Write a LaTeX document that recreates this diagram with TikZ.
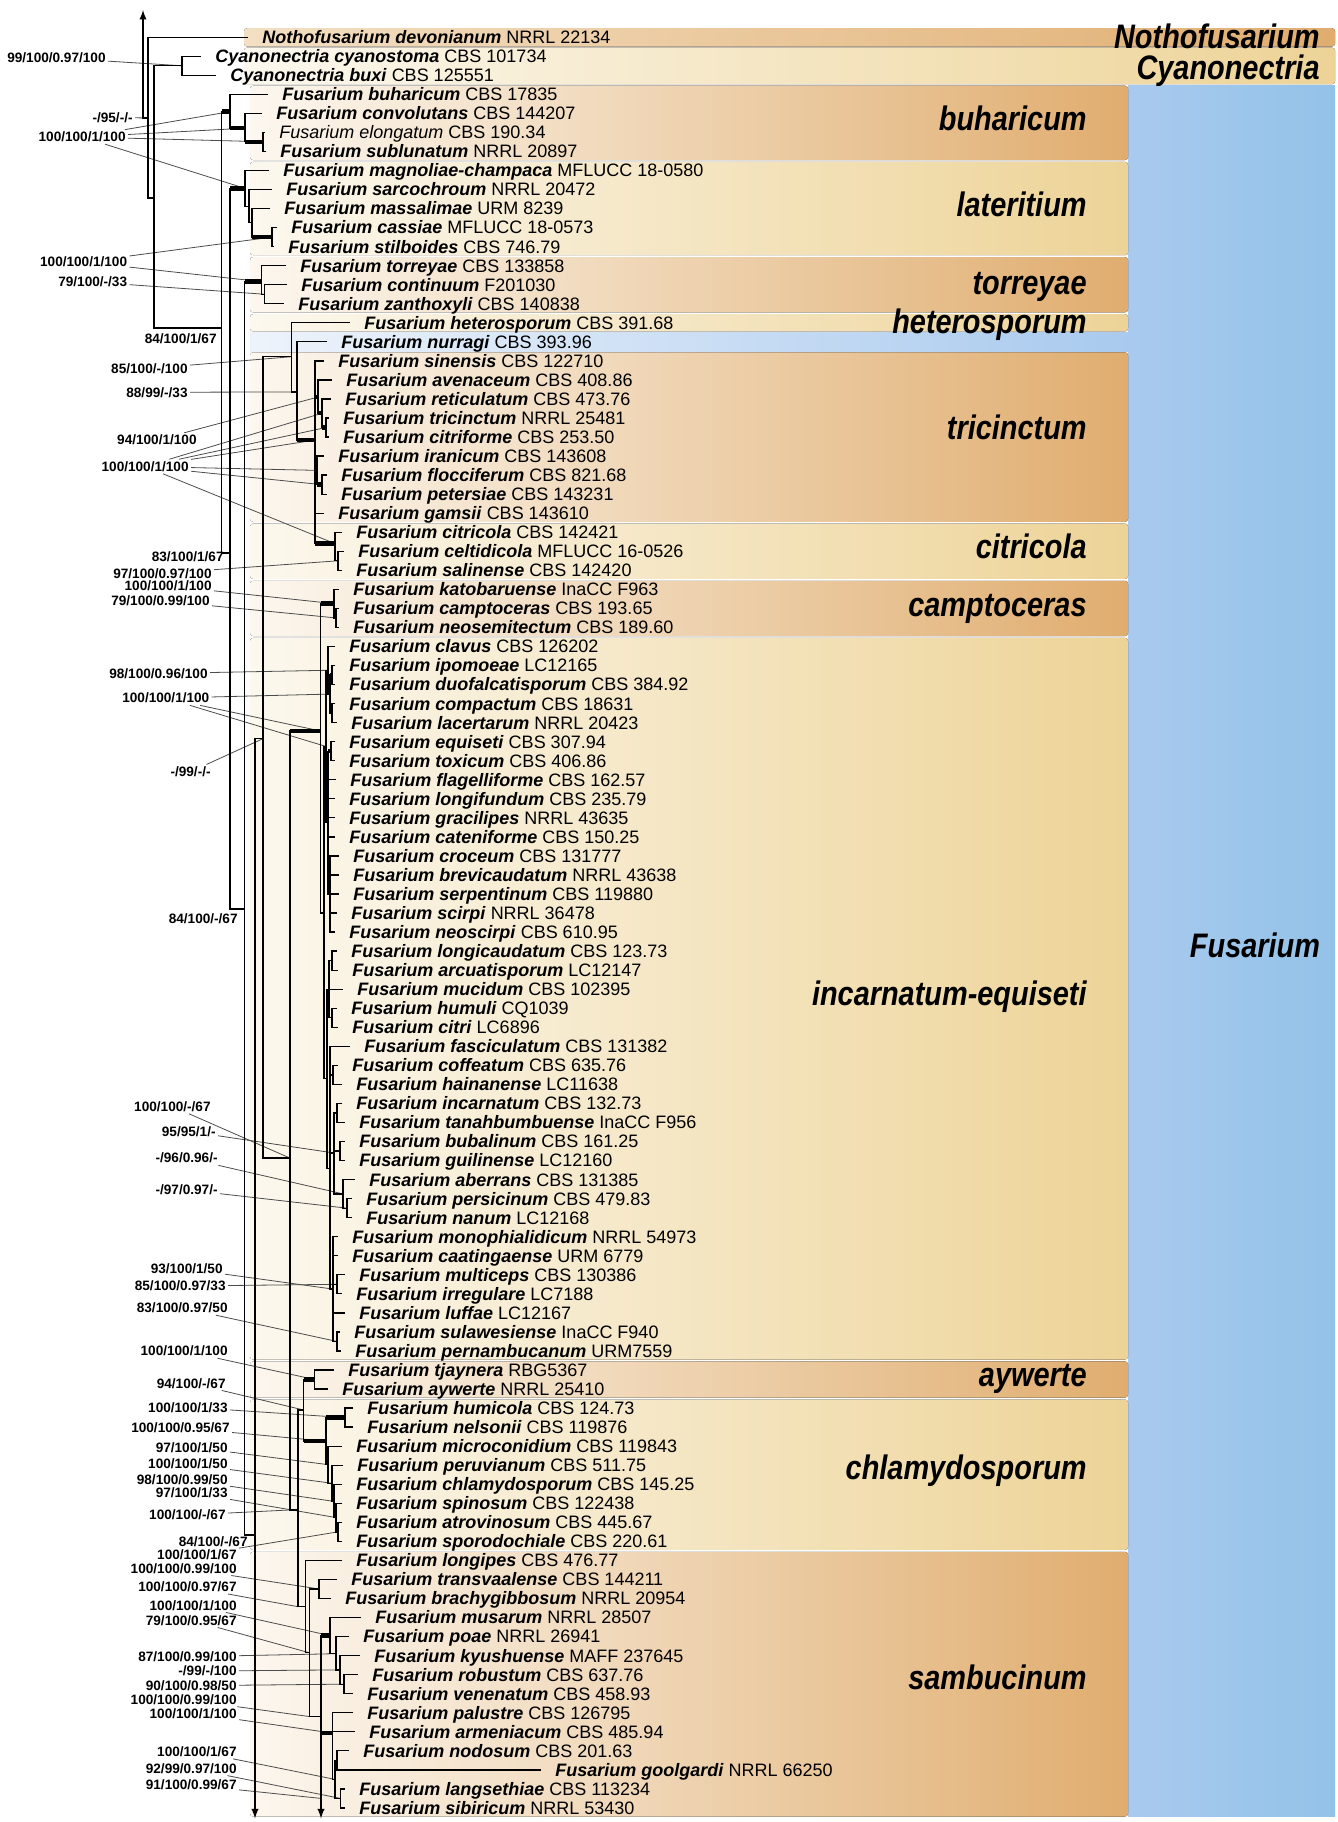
\documentclass[tikz,border=0pt]{standalone}
\usepackage{fontspec}
\setmainfont{Liberation Sans}
\newfontfamily\cladefont[FakeStretch=0.85]{Liberation Sans}
\usepackage{xcolor}
\usepackage{tikz}
\usetikzlibrary{calc}
\definecolor{tanR}{HTML}{E0AD6F}
\definecolor{tanL}{HTML}{FCF7EF}
\definecolor{notL}{HTML}{F3DFC3}
\definecolor{creR}{HTML}{EDD397}
\definecolor{creL}{HTML}{FCF8EE}
\definecolor{bluL}{HTML}{A9CAEE}
\definecolor{bluR}{HTML}{93C2E8}
\definecolor{nurL}{HTML}{EEF3FB}
\newcommand{\taxon}[2]{\textbf{\textit{#1}} #2}
\tikzset{
  br/.style={line width=0.65pt},
  thk/.style={line width=2.2pt},
  ldr/.style={line width=0.4pt,black!70},
  taxa/.style={anchor=west,inner xsep=7pt,inner ysep=0pt,font=\fontsize{9}{10}\selectfont,text height=6.4pt,text depth=0pt},
  sup/.style={anchor=east,inner sep=1pt,font=\bfseries\fontsize{6.8}{8}\selectfont,text height=4.9pt,text depth=0pt},
  clade/.style={anchor=east,inner sep=0pt,font=\cladefont\bfseries\itshape\fontsize{17}{20}\selectfont,text height=12.2pt,text depth=0pt},
  tanband/.style={left color=tanL,right color=tanR,rounded corners=1.5pt},
  creband/.style={left color=creL,right color=creR,rounded corners=1.5pt},
}
\begin{document}
\begin{tikzpicture}[x=0.5pt,y=-9.52pt]
	\useasboundingbox (0,-0.954) rectangle (1338,94.74);
	% colour bands
	\fill[left color=bluL,right color=bluR] (1128,3.55) rectangle (1335,94.45);
	\fill[left color=notL,right color=tanR,rounded corners=1.5pt] (244,0.53) rectangle (1335,1.49);
	\fill[left color=creL,right color=creR,rounded corners=1.5pt] (244,1.55) rectangle (1335,3.47);
	\fill[tanband] (250,3.55) rectangle (1128,7.45);
	\fill[creband] (250,7.55) rectangle (1128,12.45);
	\fill[tanband] (250,12.55) rectangle (1128,15.45);
	\fill[creband] (250,15.55) rectangle (1128,16.45);
	\fill[left color=nurL,right color=bluL] (250,16.5) rectangle (1128,17.5);
	\fill[tanband] (250,17.55) rectangle (1128,26.45);
	\fill[creband] (250,26.55) rectangle (1128,29.45);
	\fill[tanband] (250,29.55) rectangle (1128,32.45);
	\fill[creband] (250,32.55) rectangle (1128,70.45);
	\fill[tanband] (250,70.55) rectangle (1128,72.45);
	\fill[creband] (250,72.55) rectangle (1128,80.45);
	\fill[tanband] (250,80.55) rectangle (1128,94.45);
	% clade names
	\node[clade] (Lnotho) at (1320,0.94) {Nothofusarium};
	\node[clade] (Lcyano) at (1320,2.59) {Cyanonectria};
	\node[clade,anchor=center] (Lfus) at (1255,48.7) {Fusarium};
	\node[clade] (Lbuh) at (1087,5.28) {buharicum};
	\node[clade] (Llat) at (1087,9.79) {lateritium};
	\node[clade] (Ltor) at (1087,13.88) {torreyae};
	\node[clade] (Lhet) at (1087,15.9) {heterosporum};
	\node[clade] (Ltri) at (1087,21.5) {tricinctum};
	\node[clade] (Lcit) at (1087,27.74) {citricola};
	\node[clade] (Lcam) at (1087,30.8) {camptoceras};
	\node[clade] (Linc) at (1087,51.19) {incarnatum-equiseti};
	\node[clade] (Layw) at (1087,71.2) {aywerte};
	\node[clade] (Lchl) at (1087,76.1) {chlamydosporum};
	\node[clade] (Lsam) at (1087,87.15) {sambucinum};
	% taxa
	\node[taxa] (devonianum) at (248,1) {\taxon{Nothofusarium devonianum}{NRRL 22134}};
	\node[taxa] (cyanostoma) at (201,2) {\taxon{Cyanonectria cyanostoma}{CBS 101734}};
	\node[taxa] (buxi) at (216,3) {\taxon{Cyanonectria buxi}{CBS 125551}};
	\node[taxa] (buharicum) at (268,4) {\taxon{Fusarium buharicum}{CBS 17835}};
	\node[taxa] (convolutans) at (262,5) {\taxon{Fusarium convolutans}{CBS 144207}};
	\node[taxa] (elongatum) at (265,6) {\textit{Fusarium elongatum} CBS 190.34};
	\node[taxa] (sublunatum) at (266,7) {\taxon{Fusarium sublunatum}{NRRL 20897}};
	\node[taxa] (magnoliae) at (269,8) {\taxon{Fusarium magnoliae-champaca}{MFLUCC 18-0580}};
	\node[taxa] (sarcochroum) at (272,9) {\taxon{Fusarium sarcochroum}{NRRL 20472}};
	\node[taxa] (massalimae) at (270,10) {\taxon{Fusarium massalimae}{URM 8239}};
	\node[taxa] (cassiae) at (277,11) {\taxon{Fusarium cassiae}{MFLUCC 18-0573}};
	\node[taxa] (stilboides) at (274,12) {\taxon{Fusarium stilboides}{CBS 746.79}};
	\node[taxa] (torreyae) at (286,13) {\taxon{Fusarium torreyae}{CBS 133858}};
	\node[taxa] (continuum) at (287,14) {\taxon{Fusarium continuum}{F201030}};
	\node[taxa] (zanthoxyli) at (284,15) {\taxon{Fusarium zanthoxyli}{CBS 140838}};
	\node[taxa] (heterosporum) at (350,16) {\taxon{Fusarium heterosporum}{CBS 391.68}};
	\node[taxa] (nurragi) at (327,17) {\taxon{Fusarium nurragi}{CBS 393.96}};
	\node[taxa] (sinensis) at (324,18) {\taxon{Fusarium sinensis}{CBS 122710}};
	\node[taxa] (avenaceum) at (332,19) {\taxon{Fusarium avenaceum}{CBS 408.86}};
	\node[taxa] (reticulatum) at (331,20) {\taxon{Fusarium reticulatum}{CBS 473.76}};
	\node[taxa] (tricinctum) at (329,21) {\taxon{Fusarium tricinctum}{NRRL 25481}};
	\node[taxa] (citriforme) at (329,22) {\taxon{Fusarium citriforme}{CBS 253.50}};
	\node[taxa] (iranicum) at (324,23) {\taxon{Fusarium iranicum}{CBS 143608}};
	\node[taxa] (flocciferum) at (327,24) {\taxon{Fusarium flocciferum}{CBS 821.68}};
	\node[taxa] (petersiae) at (327,25) {\taxon{Fusarium petersiae}{CBS 143231}};
	\node[taxa] (gamsii) at (324,26) {\taxon{Fusarium gamsii}{CBS 143610}};
	\node[taxa] (citricola) at (342,27) {\taxon{Fusarium citricola}{CBS 142421}};
	\node[taxa] (celtidicola) at (344,28) {\taxon{Fusarium celtidicola}{MFLUCC 16-0526}};
	\node[taxa] (salinense) at (342,29) {\taxon{Fusarium salinense}{CBS 142420}};
	\node[taxa] (katobaruense) at (339,30) {\taxon{Fusarium katobaruense}{InaCC F963}};
	\node[taxa] (camptoceras) at (339,31) {\taxon{Fusarium camptoceras}{CBS 193.65}};
	\node[taxa] (neosemitectum) at (339,32) {\taxon{Fusarium neosemitectum}{CBS 189.60}};
	\node[taxa] (clavus) at (335,33) {\taxon{Fusarium clavus}{CBS 126202}};
	\node[taxa] (ipomoeae) at (335,34) {\taxon{Fusarium ipomoeae}{LC12165}};
	\node[taxa] (duofalcatisporum) at (335,35) {\taxon{Fusarium duofalcatisporum}{CBS 384.92}};
	\node[taxa] (compactum) at (335,36) {\taxon{Fusarium compactum}{CBS 18631}};
	\node[taxa] (lacertarum) at (337,37) {\taxon{Fusarium lacertarum}{NRRL 20423}};
	\node[taxa] (equiseti) at (335,38) {\taxon{Fusarium equiseti}{CBS 307.94}};
	\node[taxa] (toxicum) at (335,39) {\taxon{Fusarium toxicum}{CBS 406.86}};
	\node[taxa] (flagelliforme) at (336,40) {\taxon{Fusarium flagelliforme}{CBS 162.57}};
	\node[taxa] (longifundum) at (335,41) {\taxon{Fusarium longifundum}{CBS 235.79}};
	\node[taxa] (gracilipes) at (335,42) {\taxon{Fusarium gracilipes}{NRRL 43635}};
	\node[taxa] (cateniforme) at (335,43) {\taxon{Fusarium cateniforme}{CBS 150.25}};
	\node[taxa] (croceum) at (339,44) {\taxon{Fusarium croceum}{CBS 131777}};
	\node[taxa] (brevicaudatum) at (339,45) {\taxon{Fusarium brevicaudatum}{NRRL 43638}};
	\node[taxa] (serpentinum) at (339,46) {\taxon{Fusarium serpentinum}{CBS 119880}};
	\node[taxa] (scirpi) at (337,47) {\taxon{Fusarium scirpi}{NRRL 36478}};
	\node[taxa] (neoscirpi) at (335,48) {\taxon{Fusarium neoscirpi}{CBS 610.95}};
	\node[taxa] (longicaudatum) at (337,49) {\taxon{Fusarium longicaudatum}{CBS 123.73}};
	\node[taxa] (arcuatisporum) at (338,50) {\taxon{Fusarium arcuatisporum}{LC12147}};
	\node[taxa] (mucidum) at (343,51) {\taxon{Fusarium mucidum}{CBS 102395}};
	\node[taxa] (humuli) at (337,52) {\taxon{Fusarium humuli}{CQ1039}};
	\node[taxa] (citri) at (338,53) {\taxon{Fusarium citri}{LC6896}};
	\node[taxa] (fasciculatum) at (350,54) {\taxon{Fusarium fasciculatum}{CBS 131382}};
	\node[taxa] (coffeatum) at (338,55) {\taxon{Fusarium coffeatum}{CBS 635.76}};
	\node[taxa] (hainanense) at (342,56) {\taxon{Fusarium hainanense}{LC11638}};
	\node[taxa] (incarnatum) at (342,57) {\taxon{Fusarium incarnatum}{CBS 132.73}};
	\node[taxa] (tanahbumbuense) at (345,58) {\taxon{Fusarium tanahbumbuense}{InaCC F956}};
	\node[taxa] (bubalinum) at (345,59) {\taxon{Fusarium bubalinum}{CBS 161.25}};
	\node[taxa] (guilinense) at (345,60) {\taxon{Fusarium guilinense}{LC12160}};
	\node[taxa] (aberrans) at (355,61) {\taxon{Fusarium aberrans}{CBS 131385}};
	\node[taxa] (persicinum) at (352,62) {\taxon{Fusarium persicinum}{CBS 479.83}};
	\node[taxa] (nanum) at (352,63) {\taxon{Fusarium nanum}{LC12168}};
	\node[taxa] (monophialidicum) at (338,64) {\taxon{Fusarium monophialidicum}{NRRL 54973}};
	\node[taxa] (caatingaense) at (338,65) {\taxon{Fusarium caatingaense}{URM 6779}};
	\node[taxa] (multiceps) at (345,66) {\taxon{Fusarium multiceps}{CBS 130386}};
	\node[taxa] (irregulare) at (342,67) {\taxon{Fusarium irregulare}{LC7188}};
	\node[taxa] (luffae) at (345,68) {\taxon{Fusarium luffae}{LC12167}};
	\node[taxa] (sulawesiense) at (340,69) {\taxon{Fusarium sulawesiense}{InaCC F940}};
	\node[taxa] (pernambucanum) at (341,70) {\taxon{Fusarium pernambucanum}{URM7559}};
	\node[taxa] (tjaynera) at (334,71) {\taxon{Fusarium tjaynera}{RBG5367}};
	\node[taxa] (aywerte) at (328,72) {\taxon{Fusarium aywerte}{NRRL 25410}};
	\node[taxa] (humicola) at (353,73) {\taxon{Fusarium humicola}{CBS 124.73}};
	\node[taxa] (nelsonii) at (353,74) {\taxon{Fusarium nelsonii}{CBS 119876}};
	\node[taxa] (microconidium) at (342,75) {\taxon{Fusarium microconidium}{CBS 119843}};
	\node[taxa] (peruvianum) at (343,76) {\taxon{Fusarium peruvianum}{CBS 511.75}};
	\node[taxa] (chlamydosporum) at (342,77) {\taxon{Fusarium chlamydosporum}{CBS 145.25}};
	\node[taxa] (spinosum) at (342,78) {\taxon{Fusarium spinosum}{CBS 122438}};
	\node[taxa] (atrovinosum) at (342,79) {\taxon{Fusarium atrovinosum}{CBS 445.67}};
	\node[taxa] (sporodochiale) at (342,80) {\taxon{Fusarium sporodochiale}{CBS 220.61}};
	\node[taxa] (longipes) at (342,81) {\taxon{Fusarium longipes}{CBS 476.77}};
	\node[taxa] (transvaalense) at (337,82) {\taxon{Fusarium transvaalense}{CBS 144211}};
	\node[taxa] (brachygibbosum) at (331,83) {\taxon{Fusarium brachygibbosum}{NRRL 20954}};
	\node[taxa] (musarum) at (361,84) {\taxon{Fusarium musarum}{NRRL 28507}};
	\node[taxa] (poae) at (349,85) {\taxon{Fusarium poae}{NRRL 26941}};
	\node[taxa] (kyushuense) at (360,86) {\taxon{Fusarium kyushuense}{MAFF 237645}};
	\node[taxa] (robustum) at (358,87) {\taxon{Fusarium robustum}{CBS 637.76}};
	\node[taxa] (venenatum) at (353,88) {\taxon{Fusarium venenatum}{CBS 458.93}};
	\node[taxa] (palustre) at (353,89) {\taxon{Fusarium palustre}{CBS 126795}};
	\node[taxa] (armeniacum) at (355,90) {\taxon{Fusarium armeniacum}{CBS 485.94}};
	\node[taxa] (nodosum) at (349,91) {\taxon{Fusarium nodosum}{CBS 201.63}};
	\node[taxa] (goolgardi) at (541,92) {\taxon{Fusarium goolgardi}{NRRL 66250}};
	\node[taxa] (langsethiae) at (345,93) {\taxon{Fusarium langsethiae}{CBS 113234}};
	\node[taxa] (sibiricum) at (345,94) {\taxon{Fusarium sibiricum}{NRRL 53430}};
	% inner nodes of the tree
	\coordinate (rootup) at (143,-0.43);
	\coordinate (n1) at (148,5.24);
	\coordinate (n2) at (154,9.45);
	\coordinate (cya) at (182,2.5);
	\coordinate (fus) at (221.7,16.27);
	\coordinate (buh) at (230,4.91);
	\coordinate (buh2) at (245,5.78);
	\coordinate (buh3) at (263,6.49);
	\coordinate (bb2) at (230,28.09);
	\coordinate (lat) at (245,8.94);
	\coordinate (lat2) at (249,9.88);
	\coordinate (lat3) at (252,10.75);
	\coordinate (lat4) at (272,11.5);
	\coordinate (bb3) at (244.6,46.79);
	\coordinate (tor) at (261.7,13.84);
	\coordinate (tor2) at (264.3,14.5);
	\coordinate (bb4) at (255,79.67);
	\coordinate (botA) at (255,94.55);
	\coordinate (bb5) at (263,37.84);
	\coordinate (het) at (291.7,17.78);
	\coordinate (nur) at (297,19.63);
	\coordinate (tri) at (315,22.16);
	\coordinate (ave) at (318,19.9);
	\coordinate (ret) at (322,20.75);
	\coordinate (tcn) at (326,21.5);
	\coordinate (ira) at (317,23.75);
	\coordinate (flo) at (322,24.5);
	\coordinate (cit) at (335,27.6);
	\coordinate (cit2) at (338,28.5);
	\coordinate (bbX) at (290,59.87);
	\coordinate (cie) at (320.7,37.44);
	\coordinate (cam) at (334,30.75);
	\coordinate (cam2) at (336,31.5);
	\coordinate (ie) at (324,47);
	\coordinate (ieA) at (326,38.25);
	\coordinate (cla) at (328,34.25);
	\coordinate (cla2) at (330,35.5);
	\coordinate (ipo) at (332,34.5);
	\coordinate (com) at (332,36.5);
	\coordinate (ieA2) at (328,42.25);
	\coordinate (equ) at (331,38.5);
	\coordinate (cro) at (330,46);
	\coordinate (ieB) at (327,55.7);
	\coordinate (ieB1) at (329,51);
	\coordinate (lca) at (332,49.5);
	\coordinate (hum) at (332,52.5);
	\coordinate (ieB2) at (330,60.4);
	\coordinate (cof) at (333,55.5);
	\coordinate (inc) at (334,59.6);
	\coordinate (inc2) at (337,57.5);
	\coordinate (bub) at (340,59.5);
	\coordinate (abe) at (343,61.75);
	\coordinate (per) at (347,62.5);
	\coordinate (mon) at (333,66.75);
	\coordinate (mul) at (337,66.5);
	\coordinate (sul) at (337,69.5);
	\coordinate (bbY) at (298,78.35);
	\coordinate (ayc) at (303.6,73.1);
	\coordinate (ayw) at (314.7,71.5);
	\coordinate (chl) at (326,74.74);
	\coordinate (hmc) at (345,73.5);
	\coordinate (mic) at (328,75.97);
	\coordinate (pru) at (332,76.95);
	\coordinate (chl2) at (334,77.9);
	\coordinate (spi) at (336,78.75);
	\coordinate (atr) at (338,79.5);
	\coordinate (sam) at (305.8,83.43);
	\coordinate (sam2) at (309.4,85.85);
	\coordinate (tra) at (319,82.5);
	\coordinate (sam3) at (321,89.2);
	\coordinate (botB) at (321,94.55);
	\coordinate (mus) at (330,84.95);
	\coordinate (poa) at (336,85.9);
	\coordinate (kyu) at (340,86.75);
	\coordinate (rob) at (344,87.5);
	\coordinate (pal) at (332.6,90.07);
	\coordinate (nod) at (335,92.5);
	\coordinate (goo) at (337,91.5);
	\coordinate (lan) at (340.5,93.5);
	% support values
	\node[sup] (s01) at (108,2.09) {99/100/0.97/100};
	\node[sup] (s02) at (135,5.21) {-/95/-/-};
	\node[sup] (s03) at (128,6.24) {100/100/1/100};
	\node[sup] (s04) at (129.5,12.81) {100/100/1/100};
	\node[sup] (s05) at (129.5,13.86) {79/100/-/33};
	\node[sup] (s06) at (219,16.82) {84/100/1/67};
	\node[sup] (s07) at (190,18.4) {85/100/-/100};
	\node[sup] (s08) at (190,19.65) {88/99/-/33};
	\node[sup] (s09) at (199,22.16) {94/100/1/100};
	\node[sup] (s10) at (191,23.55) {100/100/1/100};
	\node[sup] (s11) at (226,28.3) {83/100/1/67};
	\node[sup] (s12) at (214,29.16) {97/100/0.97/100};
	\node[sup] (s13) at (214,29.82) {100/100/1/100};
	\node[sup] (s14) at (212,30.6) {79/100/0.99/100};
	\node[sup] (s15) at (210,34.42) {98/100/0.96/100};
	\node[sup] (s16) at (211.7,35.71) {100/100/1/100};
	\node[sup] (s17) at (213,39.58) {-/99/-/-};
	\node[sup] (s18) at (240,47.31) {84/100/-/67};
	\node[sup] (s19) at (213,57.16) {100/100/-/67};
	\node[sup] (s20) at (218,58.47) {95/95/1/-};
	\node[sup] (s21) at (220,59.87) {-/96/0.96/-};
	\node[sup] (s22) at (220,61.54) {-/97/0.97/-};
	\node[sup] (s23) at (225,65.69) {93/100/1/50};
	\node[sup] (s24) at (228,66.59) {85/100/0.97/33};
	\node[sup] (s25) at (230,67.74) {83/100/0.97/50};
	\node[sup] (s26) at (230,70) {100/100/1/100};
	\node[sup] (s27) at (228,71.69) {94/100/-/67};
	\node[sup] (s28) at (230,72.95) {100/100/1/33};
	\node[sup] (s29) at (232,74.03) {100/100/0.95/67};
	\node[sup] (s30) at (230,75.05) {97/100/1/50};
	\node[sup] (s31) at (230,75.93) {100/100/1/50};
	\node[sup] (s32) at (230,76.74) {98/100/0.99/50};
	\node[sup] (s33) at (230,77.45) {97/100/1/33};
	\node[sup] (s34) at (228,78.62) {100/100/-/67};
	\node[sup] (s35) at (250,80.03) {84/100/-/67};
	\node[sup] (s36) at (239,80.72) {100/100/1/67};
	\node[sup] (s37) at (239,81.41) {100/100/0.99/100};
	\node[sup] (s38) at (239,82.38) {100/100/0.97/67};
	\node[sup] (s39) at (239,83.35) {100/100/1/100};
	\node[sup] (s40) at (239,84.14) {79/100/0.95/67};
	\node[sup] (s41) at (239,86.06) {87/100/0.99/100};
	\node[sup] (s42) at (239,86.81) {-/99/-/100};
	\node[sup] (s43) at (239,87.58) {90/100/0.98/50};
	\node[sup] (s44) at (239,88.3) {100/100/0.99/100};
	\node[sup] (s45) at (239,89.02) {100/100/1/100};
	\node[sup] (s46) at (239,91.04) {100/100/1/67};
	\node[sup] (s47) at (239,91.92) {92/99/0.97/100};
	\node[sup] (s48) at (239,92.79) {91/100/0.99/67};
	% leaders from support values
	\draw[ldr] (s01) -- (cya);
	\draw[ldr] (s02) -- (rootup |- n1);
	\draw[ldr] (s03) -- (buh);
	\draw[ldr] (s03) -- (buh2);
	\draw[ldr] (s03) -- (buh3);
	\draw[ldr] (s03) -- (lat);
	\draw[ldr] (s04) -- (lat4);
	\draw[ldr] (s04) -- (tor);
	\draw[ldr] (s05) -- (tor2);
	\draw[ldr] (s07) -- (het);
	\draw[ldr] (s08) -- (nur);
	\draw[ldr] (s09) -- (ave);
	\draw[ldr] (s10) -- (ret);
	\draw[ldr] (s10) -- (tcn);
	\draw[ldr] (s10) -- (tri);
	\draw[ldr] (s10) -- (ira);
	\draw[ldr] (s10) -- (flo);
	\draw[ldr] (s10) -- (cit);
	\draw[ldr] (s12) -- (cit2);
	\draw[ldr] (s13) -- (cam);
	\draw[ldr] (s14) -- (cam2);
	\draw[ldr] (s15) -- (cla);
	\draw[ldr] (s16) -- (cla2);
	\draw[ldr] (s16) -- (cie);
	\draw[ldr] (s16) -- (ieA);
	\draw[ldr] (s17) -- (bb5);
	\draw[ldr] (s19) -- (bbX);
	\draw[ldr] (s20) -- (inc);
	\draw[ldr] (s21) -- (abe);
	\draw[ldr] (s22) -- (per);
	\draw[ldr] (s23) -- (mon);
	\draw[ldr] (s24) -- (mul);
	\draw[ldr] (s25) -- (sul);
	\draw[ldr] (s26) -- (ayw);
	\draw[ldr] (s27) -- (ayc);
	\draw[ldr] (s28) -- (hmc);
	\draw[ldr] (s29) -- (chl);
	\draw[ldr] (s30) -- (mic);
	\draw[ldr] (s31) -- (pru);
	\draw[ldr] (s32) -- (chl2);
	\draw[ldr] (s33) -- (spi);
	\draw[ldr] (s34) -- (bbX |- bbY);
	\draw[ldr] (s36) -- (atr);
	\draw[ldr] (s37) -- (tra);
	\draw[ldr] (s38) -- (bbY |- sam);
	\draw[ldr] (s39) -- (mus);
	\draw[ldr] (s40) -- (sam2);
	\draw[ldr] (s41) -- (poa);
	\draw[ldr] (s42) -- (kyu);
	\draw[ldr] (s43) -- (rob);
	\draw[ldr] (s44) -- (sam2 |- sam3);
	\draw[ldr] (s45) -- (pal);
	\draw[ldr] (s46) -- (nod);
	\draw[ldr] (s47) -- (lan);
	\draw[ldr] (s48) -- (sam3 |- lan);
	% branches
	\draw[br,-latex] (n1) -| (rootup);
	\draw[br] (devonianum) -| (n1) |- (n2);
	\draw[br] (cya) -| (n2) |- (fus);
	\draw[br] (cyanostoma) -| (cya) |- (buxi);
	\draw[br] (buh) -| (fus) |- (bb2);
	\draw[br] (buharicum) -| (buh) |- (buh2);
	\draw[br] (convolutans) -| (buh2) |- (buh3);
	\draw[br] (elongatum) -| (buh3) |- (sublunatum);
	\draw[br] (lat) -| (bb2) |- (bb3);
	\draw[br] (magnoliae) -| (lat) |- (lat2);
	\draw[br] (sarcochroum) -| (lat2) |- (lat3);
	\draw[br] (massalimae) -| (lat3) |- (lat4);
	\draw[br] (cassiae) -| (lat4) |- (stilboides);
	\draw[br] (tor) -| (bb3) |- (bb4);
	\draw[br] (torreyae) -| (tor) |- (tor2);
	\draw[br] (continuum) -| (tor2) |- (zanthoxyli);
	\draw[br] (bb5) -| (bb4);
	\draw[br,-latex] (bb4) -- (botA);
	\draw[br] (het) -| (bb5) |- (bbX);
	\draw[br] (heterosporum) -| (het) |- (nur);
	\draw[br] (nurragi) -| (nur) |- (tri);
	\draw[br] (sinensis) -| (tri) |- (cit);
	\draw[br] (tri |- ave) -- (ave);
	\draw[br] (tri |- ira) -- (ira);
	\draw[br] (tri |- gamsii) -- (gamsii);
	\draw[br] (avenaceum) -| (ave) |- (ret);
	\draw[br] (reticulatum) -| (ret) |- (tcn);
	\draw[br] (tricinctum) -| (tcn) |- (citriforme);
	\draw[br] (iranicum) -| (ira) |- (flo);
	\draw[br] (flocciferum) -| (flo) |- (petersiae);
	\draw[br] (citricola) -| (cit) |- (cit2);
	\draw[br] (celtidicola) -| (cit2) |- (salinense);
	\draw[br] (cie) -| (bbX) |- (bbY);
	\draw[br] (cam) -| (cie) |- (ie);
	\draw[br] (katobaruense) -| (cam) |- (cam2);
	\draw[br] (camptoceras) -| (cam2) |- (neosemitectum);
	\draw[br] (ieA) -| (ie) |- (ieB);
	\draw[br] (cla) -| (ieA) |- (ieA2);
	\draw[br] (clavus) -| (cla) |- (cla2);
	\draw[br] (ipo) -| (cla2) |- (com);
	\draw[br] (ipomoeae) -| (ipo) |- (duofalcatisporum);
	\draw[br] (compactum) -| (com) |- (lacertarum);
	\draw[br] (equ) -| (ieA2) |- (cro);
	\draw[br] (equiseti) -| (equ) |- (toxicum);
	\draw[br] (ieA2 |- flagelliforme) -- (flagelliforme);
	\draw[br] (ieA2 |- longifundum) -- (longifundum);
	\draw[br] (ieA2 |- gracilipes) -- (gracilipes);
	\draw[br] (ieA2 |- cateniforme) -- (cateniforme);
	\draw[br] (croceum) -| (cro) |- (neoscirpi);
	\draw[br] (cro |- brevicaudatum) -- (brevicaudatum);
	\draw[br] (cro |- serpentinum) -- (serpentinum);
	\draw[br] (cro |- scirpi) -- (scirpi);
	\draw[br] (ieB1) -| (ieB) |- (ieB2);
	\draw[br] (lca) -| (ieB1) |- (hum);
	\draw[br] (ieB1 |- mucidum) -- (mucidum);
	\draw[br] (longicaudatum) -| (lca) |- (arcuatisporum);
	\draw[br] (humuli) -| (hum) |- (citri);
	\draw[br] (fasciculatum) -| (ieB2) |- (mon);
	\draw[br] (ieB2 |- cof) -- (cof);
	\draw[br] (ieB2 |- inc) -- (inc);
	\draw[br] (coffeatum) -| (cof) |- (hainanense);
	\draw[br] (inc2) -| (inc) |- (abe);
	\draw[br] (inc |- bub) -- (bub);
	\draw[br] (incarnatum) -| (inc2) |- (tanahbumbuense);
	\draw[br] (bubalinum) -| (bub) |- (guilinense);
	\draw[br] (aberrans) -| (abe) |- (per);
	\draw[br] (persicinum) -| (per) |- (nanum);
	\draw[br] (monophialidicum) -| (mon) |- (sul);
	\draw[br] (mon |- caatingaense) -- (caatingaense);
	\draw[br] (mon |- mul) -- (mul);
	\draw[br] (mon |- luffae) -- (luffae);
	\draw[br] (multiceps) -| (mul) |- (irregulare);
	\draw[br] (sulawesiense) -| (sul) |- (pernambucanum);
	\draw[br] (ayc) -| (bbY) |- (sam);
	\draw[br] (ayw) -| (ayc) |- (chl);
	\draw[br] (tjaynera) -| (ayw) |- (aywerte);
	\draw[br] (hmc) -| (chl) |- (mic);
	\draw[br] (humicola) -| (hmc) |- (nelsonii);
	\draw[br] (microconidium) -| (mic) |- (pru);
	\draw[br] (peruvianum) -| (pru) |- (chl2);
	\draw[br] (chlamydosporum) -| (chl2) |- (spi);
	\draw[br] (spinosum) -| (spi) |- (atr);
	\draw[br] (atrovinosum) -| (atr) |- (sporodochiale);
	\draw[br] (longipes) -| (sam) |- (sam2);
	\draw[br] (tra) -| (sam2) |- (sam3);
	\draw[br] (transvaalense) -| (tra) |- (brachygibbosum);
	\draw[br] (mus) -| (sam3) |- (pal);
	\draw[br,-latex] (sam3 |- pal) -- (botB);
	\draw[br] (musarum) -| (mus) |- (poa);
	\draw[br] (poae) -| (poa) |- (kyu);
	\draw[br] (kyushuense) -| (kyu) |- (rob);
	\draw[br] (robustum) -| (rob) |- (venenatum);
	\draw[br] (palustre) -| (pal) |- (nod);
	\draw[br] (pal |- armeniacum) -- (armeniacum);
	\draw[br] (goo) -| (nod) |- (lan);
	\draw[br] (nodosum) -| (goo) |- (goolgardi);
	\draw[br] (langsethiae) -| (lan) |- (sibiricum);
	% fully supported branches
	\draw[thk] (fus |- buh) -- (buh);
	\draw[thk] (buh |- buh2) -- (buh2);
	\draw[thk] (buh2 |- buh3) -- (buh3);
	\draw[thk] (bb2 |- lat) -- (lat);
	\draw[thk] (lat3 |- lat4) -- (lat4);
	\draw[thk] (bb3 |- tor) -- (tor);
	\draw[thk] (nur |- tri) -- (tri);
	\draw[thk] (tri |- cit) -- (cit);
	\draw[thk] (tri |- ave) -- (ave);
	\draw[thk] (ave |- ret) -- (ret);
	\draw[thk] (ret |- tcn) -- (tcn);
	\draw[thk] (tri |- ira) -- (ira);
	\draw[thk] (ira |- flo) -- (flo);
	\draw[thk] (bbX |- cie) -- (cie);
	\draw[thk] (cie |- cam) -- (cam);
	\draw[thk] (cla2 |- ipo) -- (ipo);
	\draw[thk] (ieA2 |- equ) -- (equ);
	\draw[thk] (ayc |- ayw) -- (ayw);
	\draw[thk] (ayc |- chl) -- (chl);
	\draw[thk] (chl |- hmc) -- (hmc);
	\draw[thk] (sam3 |- mus) -- (mus);
	\draw[thk] (sam3 |- pal) -- (pal);
\end{tikzpicture}
\end{document}
